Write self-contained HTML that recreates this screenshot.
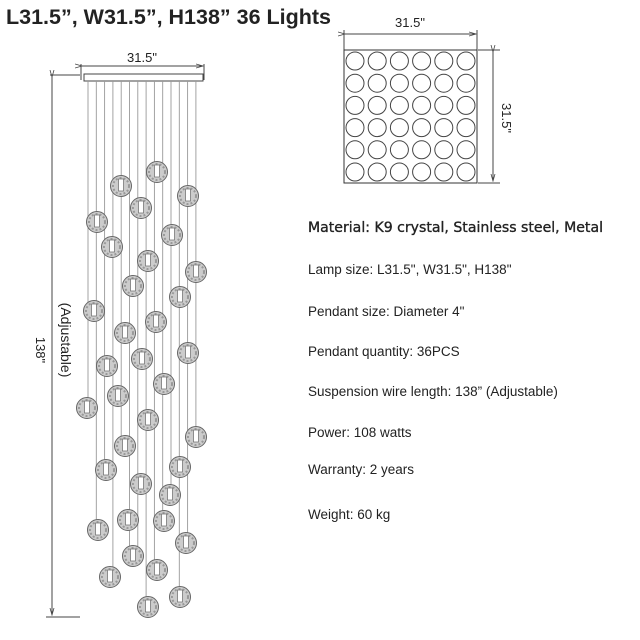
<!DOCTYPE html>
<html><head><style>
body{margin:0;background:#fff;width:640px;height:640px;overflow:hidden}
svg{display:block}
text{font-family:"Liberation Sans",sans-serif;fill:#222}
</style></head><body>
<svg width="640" height="640" viewBox="0 0 640 640" xmlns="http://www.w3.org/2000/svg">
<defs>
<g id="p"><circle r="10.5" fill="#ccc" stroke="#666" stroke-width="1"/><circle r="8" fill="none" stroke="#999" stroke-width="2" stroke-dasharray="2 2"/><rect x="-2.5" y="-7" width="5" height="12" fill="#fff" stroke="#777" stroke-width="0.8"/></g>
<marker id="a" markerWidth="8" markerHeight="6" refX="7" refY="3" orient="auto"><path d="M0,1 L7,3 L0,5" fill="none" stroke="#444" stroke-width="0.8"/></marker>
</defs>
<text x="6" y="24" font-size="21.5" font-weight="bold" fill="#111">L31.5”, W31.5”, H138”  36 Lights</text>
<line x1="81" y1="64" x2="81" y2="80" stroke="#444"/><line x1="204" y1="64" x2="204" y2="80" stroke="#444"/>
<line x1="82" y1="66" x2="203" y2="66" stroke="#444" marker-start="url(#a)" marker-end="url(#a)"/>
<text x="142" y="62" font-size="13" text-anchor="middle">31.5"</text>
<rect x="84" y="74" width="119" height="7" fill="#fff" stroke="#444"/>
<line x1="50" y1="75" x2="80" y2="75" stroke="#444"/>
<line x1="52" y1="77" x2="52" y2="615" stroke="#444" marker-start="url(#a)" marker-end="url(#a)"/>
<line x1="46" y1="617" x2="80" y2="617" stroke="#444"/>
<text transform="translate(36,350) rotate(90)" font-size="13" text-anchor="middle">138"</text>
<text transform="translate(61,340) rotate(90)" font-size="14" text-anchor="middle">(Adjustable)</text>
<g stroke="#999" stroke-width="0.9" id="wires"></g>
<g id="pend"></g>
<line x1="344" y1="30" x2="344" y2="50" stroke="#444"/><line x1="477" y1="30" x2="477" y2="50" stroke="#444"/>
<line x1="345" y1="34" x2="476" y2="34" stroke="#444" marker-start="url(#a)" marker-end="url(#a)"/>
<text x="410" y="27" font-size="13" text-anchor="middle">31.5"</text>
<rect x="344" y="50" width="133" height="133" fill="#fff" stroke="#333"/>
<g id="grid" fill="none" stroke="#444" stroke-width="1"></g>
<line x1="478" y1="50" x2="500" y2="50" stroke="#444"/><line x1="478" y1="183" x2="500" y2="183" stroke="#444"/>
<line x1="493" y1="52" x2="493" y2="181" stroke="#444" marker-start="url(#a)" marker-end="url(#a)"/>
<text transform="translate(502,118) rotate(90)" font-size="13" text-anchor="middle">31.5"</text>
<text x="308" y="232" font-size="14.5" style="font-family:'DejaVu Sans',sans-serif" fill="#222" stroke="#222" stroke-width="0.35" textLength="295" lengthAdjust="spacingAndGlyphs">Material: K9 crystal, Stainless steel, Metal</text>
<text x="308" y="274" font-size="13.5">Lamp size: L31.5", W31.5", H138"</text>
<text x="308" y="316" font-size="13.5">Pendant size: Diameter 4"</text>
<text x="308" y="356" font-size="13.5">Pendant quantity: 36PCS</text>
<text x="308" y="396" font-size="13.5">Suspension wire length: 138”  (Adjustable)</text>
<text x="308" y="437" font-size="13.5">Power:  108 watts</text>
<text x="308" y="474" font-size="13.5">Warranty: 2 years</text>
<text x="308" y="519" font-size="13.5">Weight: 60 kg</text>
<script>
var P=[[157,172],[121,186],[188,196],[97,222],[141,208],[172,235],[112,247],[148,261],[196,272],[133,286],[180,297],[94,311],[156,322],[125,333],[188,353],[107,366],[142,359],[164,384],[87,408],[118,396],[148,420],[196,437],[125,446],[106,470],[141,484],[180,467],[98,530],[164,521],[186,543],[133,556],[157,570],[110,577],[180,597],[148,607],[170,495],[128,520]];
var ns="http://www.w3.org/2000/svg",w=document.getElementById("wires"),pd=document.getElementById("pend");
for(var i=0;i<14;i++){var l=document.createElementNS(ns,"line");var x=88+i*8.3;l.setAttribute("x1",x);l.setAttribute("x2",x);l.setAttribute("y1",81);var m=81;P.forEach(function(p){if(Math.abs(p[0]-x)<5&&p[1]>m)m=p[1];});l.setAttribute("y2",m-10);w.appendChild(l);}
P.forEach(function(p){var u=document.createElementNS(ns,"use");u.setAttribute("href","#p");u.setAttribute("x",p[0]);u.setAttribute("y",p[1]);pd.appendChild(u);});
var g=document.getElementById("grid");
for(var r=0;r<6;r++)for(var c=0;c<6;c++){var ci=document.createElementNS(ns,"circle");ci.setAttribute("cx",355+c*22.2);ci.setAttribute("cy",61+r*22.2);ci.setAttribute("r",9);g.appendChild(ci);}
</script>
</svg>
</body></html>
